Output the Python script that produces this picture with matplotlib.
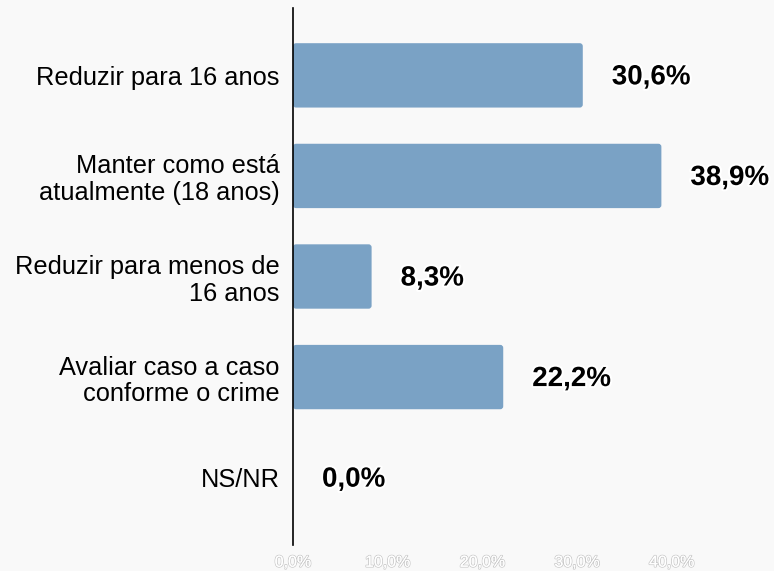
import matplotlib
matplotlib.use("Agg")
import matplotlib.pyplot as plt
import matplotlib.patheffects as pe
from matplotlib.patches import FancyBboxPatch

categories = ["Reduzir para 16 anos", "Manter como está\natualmente (18 anos)",
              "Reduzir para menos de\n16 anos", "Avaliar caso a caso\nconforme o crime", "NS/NR"]
values = [30.6, 38.9, 8.3, 22.2, 0.0]
value_labels = ["30,6%", "38,9%", "8,3%", "22,2%", "0,0%"]
xticks = [0, 10, 20, 30, 40]
xtick_labels = ["0,0%", "10,0%", "20,0%", "30,0%", "40,0%"]

bg = "#f9f9f9"
bar_color = "#7aa2c5"

plt.rcParams['font.family'] = ['Liberation Sans', 'DejaVu Sans']
fig = plt.figure(figsize=(7.74, 5.71), dpi=100, facecolor=bg)
ax = fig.add_axes([293/774, 1-545/571, 473.5/774, 537/571])
ax.set_facecolor(bg)

ypos = list(range(len(categories)))
bars = ax.barh(ypos, values, height=0.64, color=bar_color)
ax.set_xlim(0, 50)
ax.set_ylim(4.67, -0.67)

# rounded corners
px_x = 473.5 / 50
px_y = 537 / 5.34
for b in bars:
    x, y, w, h = b.get_x(), b.get_y(), b.get_width(), b.get_height()
    b.set_visible(False)
    if w <= 0:
        continue
    p = FancyBboxPatch((x, y), w, h,
                       boxstyle="round,pad=0,rounding_size=%f" % (3/px_x),
                       mutation_aspect=px_x/px_y,
                       facecolor=bar_color, edgecolor="none")
    ax.add_patch(p)

for v, lab, y in zip(values, value_labels, ypos):
    ax.text(v + 29/px_x, y + 0.02, lab, ha="left", va="center", fontsize=20,
            fontweight="bold", color="black",
            path_effects=[pe.withStroke(linewidth=3, foreground="white")])

ax.set_yticks(ypos)
ax.set_yticklabels(categories, fontsize=18.3, ha="right", multialignment="right",
                   linespacing=1.15)
ax.tick_params(axis="y", length=0, pad=9.5)
ax.set_xticks(xticks)
ax.set_xticklabels(xtick_labels, fontsize=11.5, color="white")
for t in ax.get_xticklabels():
    t.set_path_effects([pe.withStroke(linewidth=1.2, foreground="#c8c8c8"), pe.Normal()])
ax.tick_params(axis="x", length=0, pad=7)

for s in ["top", "right", "bottom"]:
    ax.spines[s].set_visible(False)
ax.spines["left"].set_color("black")
ax.spines["left"].set_linewidth(1.2)

fig.savefig("out.png", dpi=100, facecolor=bg)
